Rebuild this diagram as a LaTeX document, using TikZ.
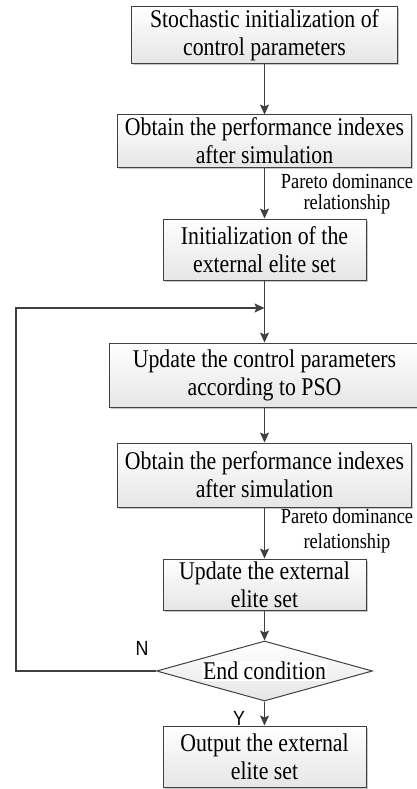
\documentclass[tikz,border=0pt]{standalone}
\usepackage{fontspec}
\setmainfont{Liberation Serif}[FakeStretch=0.855]
\newfontfamily\labelsans{Liberation Sans}[FakeStretch=0.87]
\usetikzlibrary{arrows.meta,shapes.geometric,shadows}
\definecolor{edgec}{HTML}{404040}
\tikzset{
  box/.style={draw=edgec, line width=1pt, top color=white, bottom color=black!10,
    drop shadow={shadow xshift=1.5pt, shadow yshift=-1.5pt, fill=black!22, opacity=1},
    inner sep=0pt, align=center, font=\fontsize{25.5}{28}\selectfont},
  decision/.style={diamond, draw=edgec, line width=1pt, top color=white, bottom color=black!10,
    inner sep=0pt, minimum width=216pt, minimum height=60pt},
  flow/.style={draw=edgec, line width=1.3pt, -{Stealth[length=10pt,width=9pt,inset=2pt]}},
  note/.style={align=center, inner sep=0pt},
  yn/.style={inner sep=0pt, font=\labelsans\fontsize{20.5}{20.5}\selectfont}
}
\begin{document}
\begin{tikzpicture}[x=1pt,y=-1pt]
\useasboundingbox (0,0) rectangle (416,789);
\node[box, minimum width=266pt, minimum height=57pt] (b1) at (264.5,35.5) {Stochastic initialization of\\control parameters};
\node[box, minimum width=294pt, minimum height=52pt] (b2) at (264.5,141) {Obtain the performance indexes\\after simulation};
\node[box, minimum width=203pt, minimum height=61pt] (b3) at (264.5,249.5) {Initialization of the\\external elite set};
\node[box, minimum width=310pt, minimum height=64pt] (b4) at (264.5,375) {Update the control parameters\\according to PSO};
\node[box, minimum width=294pt, minimum height=64pt] (b5) at (264.5,475) {Obtain the performance indexes\\after simulation};
\node[box, minimum width=203pt, minimum height=51pt] (b6) at (264.5,584.5) {Update the external\\elite set};
\node[decision] (d) at (264.5,671) {};
\node[fill=white, inner sep=1pt, font=\fontsize{25.5}{28}\selectfont] (dt) at (264.5,671) {End condition};
\node[box, minimum width=203pt, minimum height=61pt] (b7) at (264.5,756.5) {Output the external\\elite set};

\node[note, font=\fontsize{21.5}{21.5}\selectfont] (p1) at (347,194) {Pareto dominance\\relationship};
\node[note, font=\fontsize{21.5}{25}\selectfont] (p2) at (347,531) {Pareto dominance\\relationship};
\node[yn] (n) at (142,648) {N};
\node[yn] (y) at (239,718) {Y};

\coordinate (m) at (264.5,308);
\coordinate (lc) at (16,308);

\draw[flow] (b1) -- (b2);
\draw[flow] (b2) -- (b3);
\draw[flow] (b3) -- (b4);
\draw[flow] (b4) -- (b5);
\draw[flow] (b5) -- (b6);
\draw[flow] (b6) -- (d);
\draw[flow] (d) -- (b7);
\draw[flow] (d.west) -| (lc) -- (m);
\end{tikzpicture}
\end{document}
